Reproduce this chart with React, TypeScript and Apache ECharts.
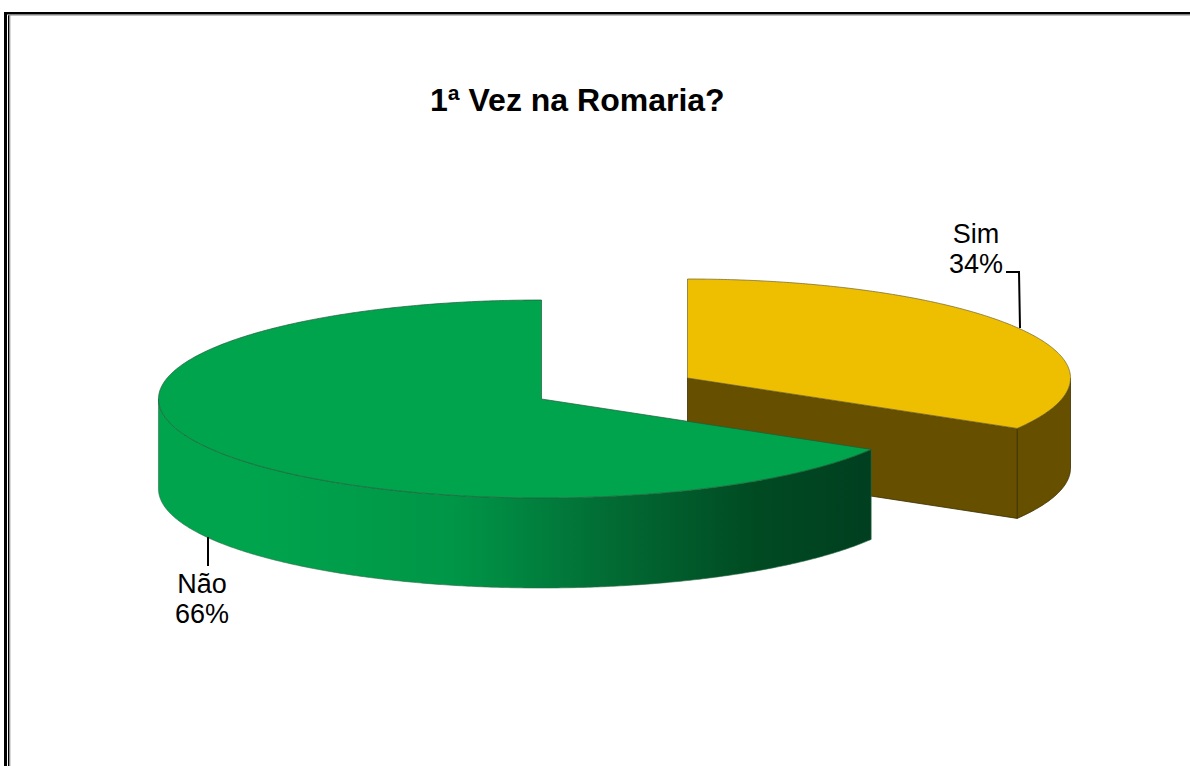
import React, { useEffect, useRef } from "react";
import * as echarts from "echarts";

const titleText = "1ª Vez na Romaria?";
const categories = ["Sim", "Não"];
const values = [33.5, 66.5];
const percentLabels = ["34%", "66%"];

const FONT = '"Liberation Sans", Arial, sans-serif';
const RX = 383;
const RY = 99;
const DEPTH = 90;
const centers = [
  [687.5, 378],
  [541.5, 399],
];
const leaders = [
  [[1006, 272], [1019, 272], [1020, 328]],
  [[208, 537], [208, 566]],
];
const labelPos = [
  [976, 219],
  [202, 569],
];

const total = values.reduce((a, b) => a + b, 0);

function pt(c: number[], deg: number, dz = 0): number[] {
  const r = (deg * Math.PI) / 180;
  return [c[0] + RX * Math.sin(r), c[1] - RY * Math.cos(r) + dz];
}
function arcPts(c: number[], from: number, to: number, dz = 0): number[][] {
  const out: number[][] = [];
  const n = Math.max(2, Math.ceil(Math.abs(to - from) * 2));
  for (let i = 0; i <= n; i++) out.push(pt(c, from + ((to - from) * i) / n, dz));
  return out;
}

const renderItem = (params: any, api: any) => {
  const idx = params.dataIndex;
  const value = api.value(0);
  const before = values.slice(0, idx).reduce((a, b) => a + b, 0);
  const a0 = (before / total) * 360;
  const a1 = a0 + (value / total) * 360;
  const c = centers[idx];
  const children: any[] = [];
  if (idx === 0) {
    const brown = "#665000";
    const edge = "#3a2e00";
    const wallTop = arcPts(c, 90, a1);
    const wallBot = arcPts(c, a1, 90, DEPTH);
    children.push({
      type: "polygon",
      shape: { points: [...wallTop, ...wallBot] },
      style: { fill: brown, stroke: edge, lineWidth: 0.8 },
    });
    const e = pt(c, a1);
    children.push({
      type: "polygon",
      shape: { points: [c, e, [e[0], e[1] + DEPTH], [c[0], c[1] + DEPTH]] },
      style: { fill: brown, stroke: edge, lineWidth: 0.8 },
    });
    children.push({
      type: "polygon",
      shape: { points: [c, ...arcPts(c, a0, a1)] },
      style: { fill: "#EEBE00", stroke: "#6f6230", lineWidth: 0.7 },
    });
  } else {
    const wallTop = arcPts(c, a0, 270);
    const wallBot = arcPts(c, 270, a0, DEPTH);
    children.push({
      type: "polygon",
      shape: { points: [...wallTop, ...wallBot] },
      style: {
        fill: new echarts.graphic.LinearGradient(0, 0, 1, 0, [
          { offset: 0, color: "#00A44D" },
          { offset: 0.13, color: "#00A44D" },
          { offset: 0.41, color: "#009647" },
          { offset: 0.48, color: "#008A42" },
          { offset: 0.64, color: "#026A33" },
          { offset: 0.84, color: "#004A22" },
          { offset: 1, color: "#003F20" },
        ]),
        stroke: "#2e6b47",
        lineWidth: 0.6,
      },
    });
    children.push({
      type: "polygon",
      shape: { points: [c, ...arcPts(c, a0, 360)] },
      style: { fill: "#00A44D", stroke: "#1f5c3a", lineWidth: 0.7 },
    });
  }
  children.push({
    type: "polyline",
    shape: { points: leaders[idx] },
    style: { stroke: "#000", lineWidth: 2, fill: "none" },
  });
  children.push({
    type: "text",
    x: labelPos[idx][0],
    y: labelPos[idx][1],
    style: {
      text: `${categories[idx]}\n${percentLabels[idx]}`,
      font: `27px ${FONT}`,
      fill: "#000",
      align: "center",
      verticalAlign: "top",
      lineHeight: 30,
    },
  });
  return { type: "group", children };
};

export default function App() {
  const ref = useRef<HTMLDivElement>(null);
  useEffect(() => {
    const chart = echarts.init(ref.current!, null, { renderer: "svg" });
    chart.setOption({
      animation: false,
      backgroundColor: "#fff",
      title: {
        text: titleText,
        left: 425,
        top: 77,
        textStyle: { fontFamily: FONT, fontSize: 32, fontWeight: "bold", color: "#000", lineHeight: 36 },
      },
      graphic: [
        { type: "rect", silent: true, shape: { x: 4, y: 12, width: 3, height: 754 }, style: { fill: "#000" } },
        { type: "rect", silent: true, shape: { x: 4, y: 12, width: 1186, height: 2.5 }, style: { fill: "#000" } },
        { type: "rect", silent: true, shape: { x: 8, y: 15, width: 1.3, height: 751 }, style: { fill: "#000" } },
        { type: "rect", silent: true, shape: { x: 9.3, y: 15, width: 1, height: 751 }, style: { fill: "#808080" } },
        { type: "rect", silent: true, shape: { x: 8, y: 14.5, width: 1182, height: 1 }, style: { fill: "#808080" } },
      ],
      series: [
        {
          type: "custom",
          coordinateSystem: "none",
          silent: true,
          renderItem,
          data: values.map((v) => [v]),
        },
      ],
    });
    return () => chart.dispose();
  }, []);
  return <div ref={ref} style={{ position: "fixed", left: 0, top: 0, width: 1190, height: 766 }} />;
}
